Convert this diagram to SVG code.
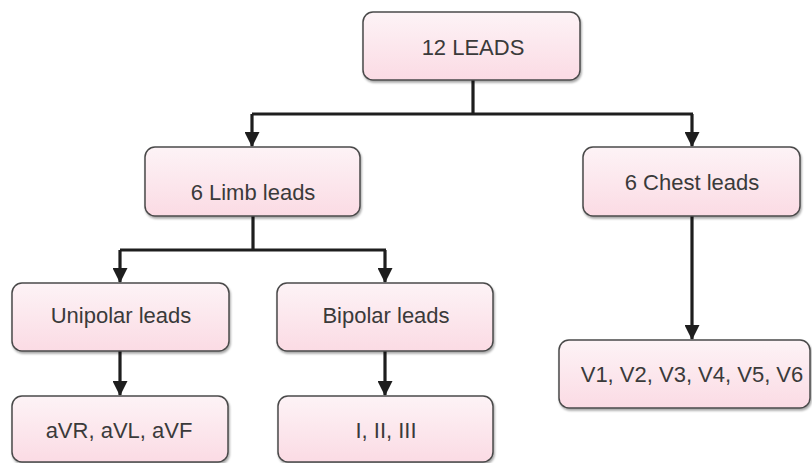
<svg xmlns="http://www.w3.org/2000/svg" width="812" height="463" viewBox="0 0 812 463">
<style>
.box{fill:url(#pg);stroke:#4a4a4a;stroke-width:1.5;filter:url(#sh)}
.t{font-family:"Liberation Sans",Arial,sans-serif;font-size:22px;fill:#3a3a3a;text-anchor:middle}
.c{fill:none;stroke:#1e1e1e;stroke-width:3.2}
</style>
<defs>
<linearGradient id="pg" x1="0" y1="0" x2="0" y2="1">
<stop offset="0" stop-color="#fdf3f6"/>
<stop offset="1" stop-color="#fbdbe4"/>
</linearGradient>
<filter id="sh" x="-5%" y="-5%" width="110%" height="120%">
<feDropShadow dx="1" dy="2" stdDeviation="1.2" flood-color="#000" flood-opacity="0.35"/>
</filter>
<marker id="arr" markerUnits="userSpaceOnUse" markerWidth="15" markerHeight="15" viewBox="0 0 15 15" refX="14" refY="7.5" orient="auto">
<path d="M0,0 L15,7.5 L0,15 Z" fill="#1e1e1e"/>
</marker>
</defs>
<g id="connectors">
<path class="c" d="M473,80 V114"/>
<path class="c" d="M252,114 H693"/>
<path class="c" d="M252,114 V146" marker-end="url(#arr)"/>
<path class="c" d="M692,114 V146" marker-end="url(#arr)"/>
<path class="c" d="M253,216 V250"/>
<path class="c" d="M120,250 H386"/>
<path class="c" d="M120,250 V282" marker-end="url(#arr)"/>
<path class="c" d="M385,250 V282" marker-end="url(#arr)"/>
<path class="c" d="M120,351 V395" marker-end="url(#arr)"/>
<path class="c" d="M385,351 V395" marker-end="url(#arr)"/>
<path class="c" d="M692,216 V339" marker-end="url(#arr)"/>
</g>
<g id="n12leads"><rect class="box" x="363" y="12" width="217" height="68" rx="10"/><text class="t" x="473" y="55">12 LEADS</text></g>
<g id="limb"><rect class="box" x="145" y="147" width="215" height="69" rx="10"/><text class="t" x="253" y="200">6 Limb leads</text></g>
<g id="chest"><rect class="box" x="583" y="147" width="217" height="69" rx="10"/><text class="t" x="692" y="190">6 Chest leads</text></g>
<g id="unipolar"><rect class="box" x="12" y="283" width="217" height="68" rx="10"/><text class="t" x="121" y="323">Unipolar leads</text></g>
<g id="bipolar"><rect class="box" x="277" y="283" width="216" height="68" rx="10"/><text class="t" x="386" y="323">Bipolar leads</text></g>
<g id="avr"><rect class="box" x="12" y="396" width="216" height="66" rx="10"/><text class="t" x="119" y="438">aVR, aVL, aVF</text></g>
<g id="i123"><rect class="box" x="278" y="396" width="215" height="66" rx="10"/><text class="t" x="386" y="438">I, II, III</text></g>
<g id="v16"><rect class="box" x="559" y="340" width="251" height="68" rx="10"/><text class="t" x="692" y="382">V1, V2, V3, V4, V5, V6</text></g>
</svg>
